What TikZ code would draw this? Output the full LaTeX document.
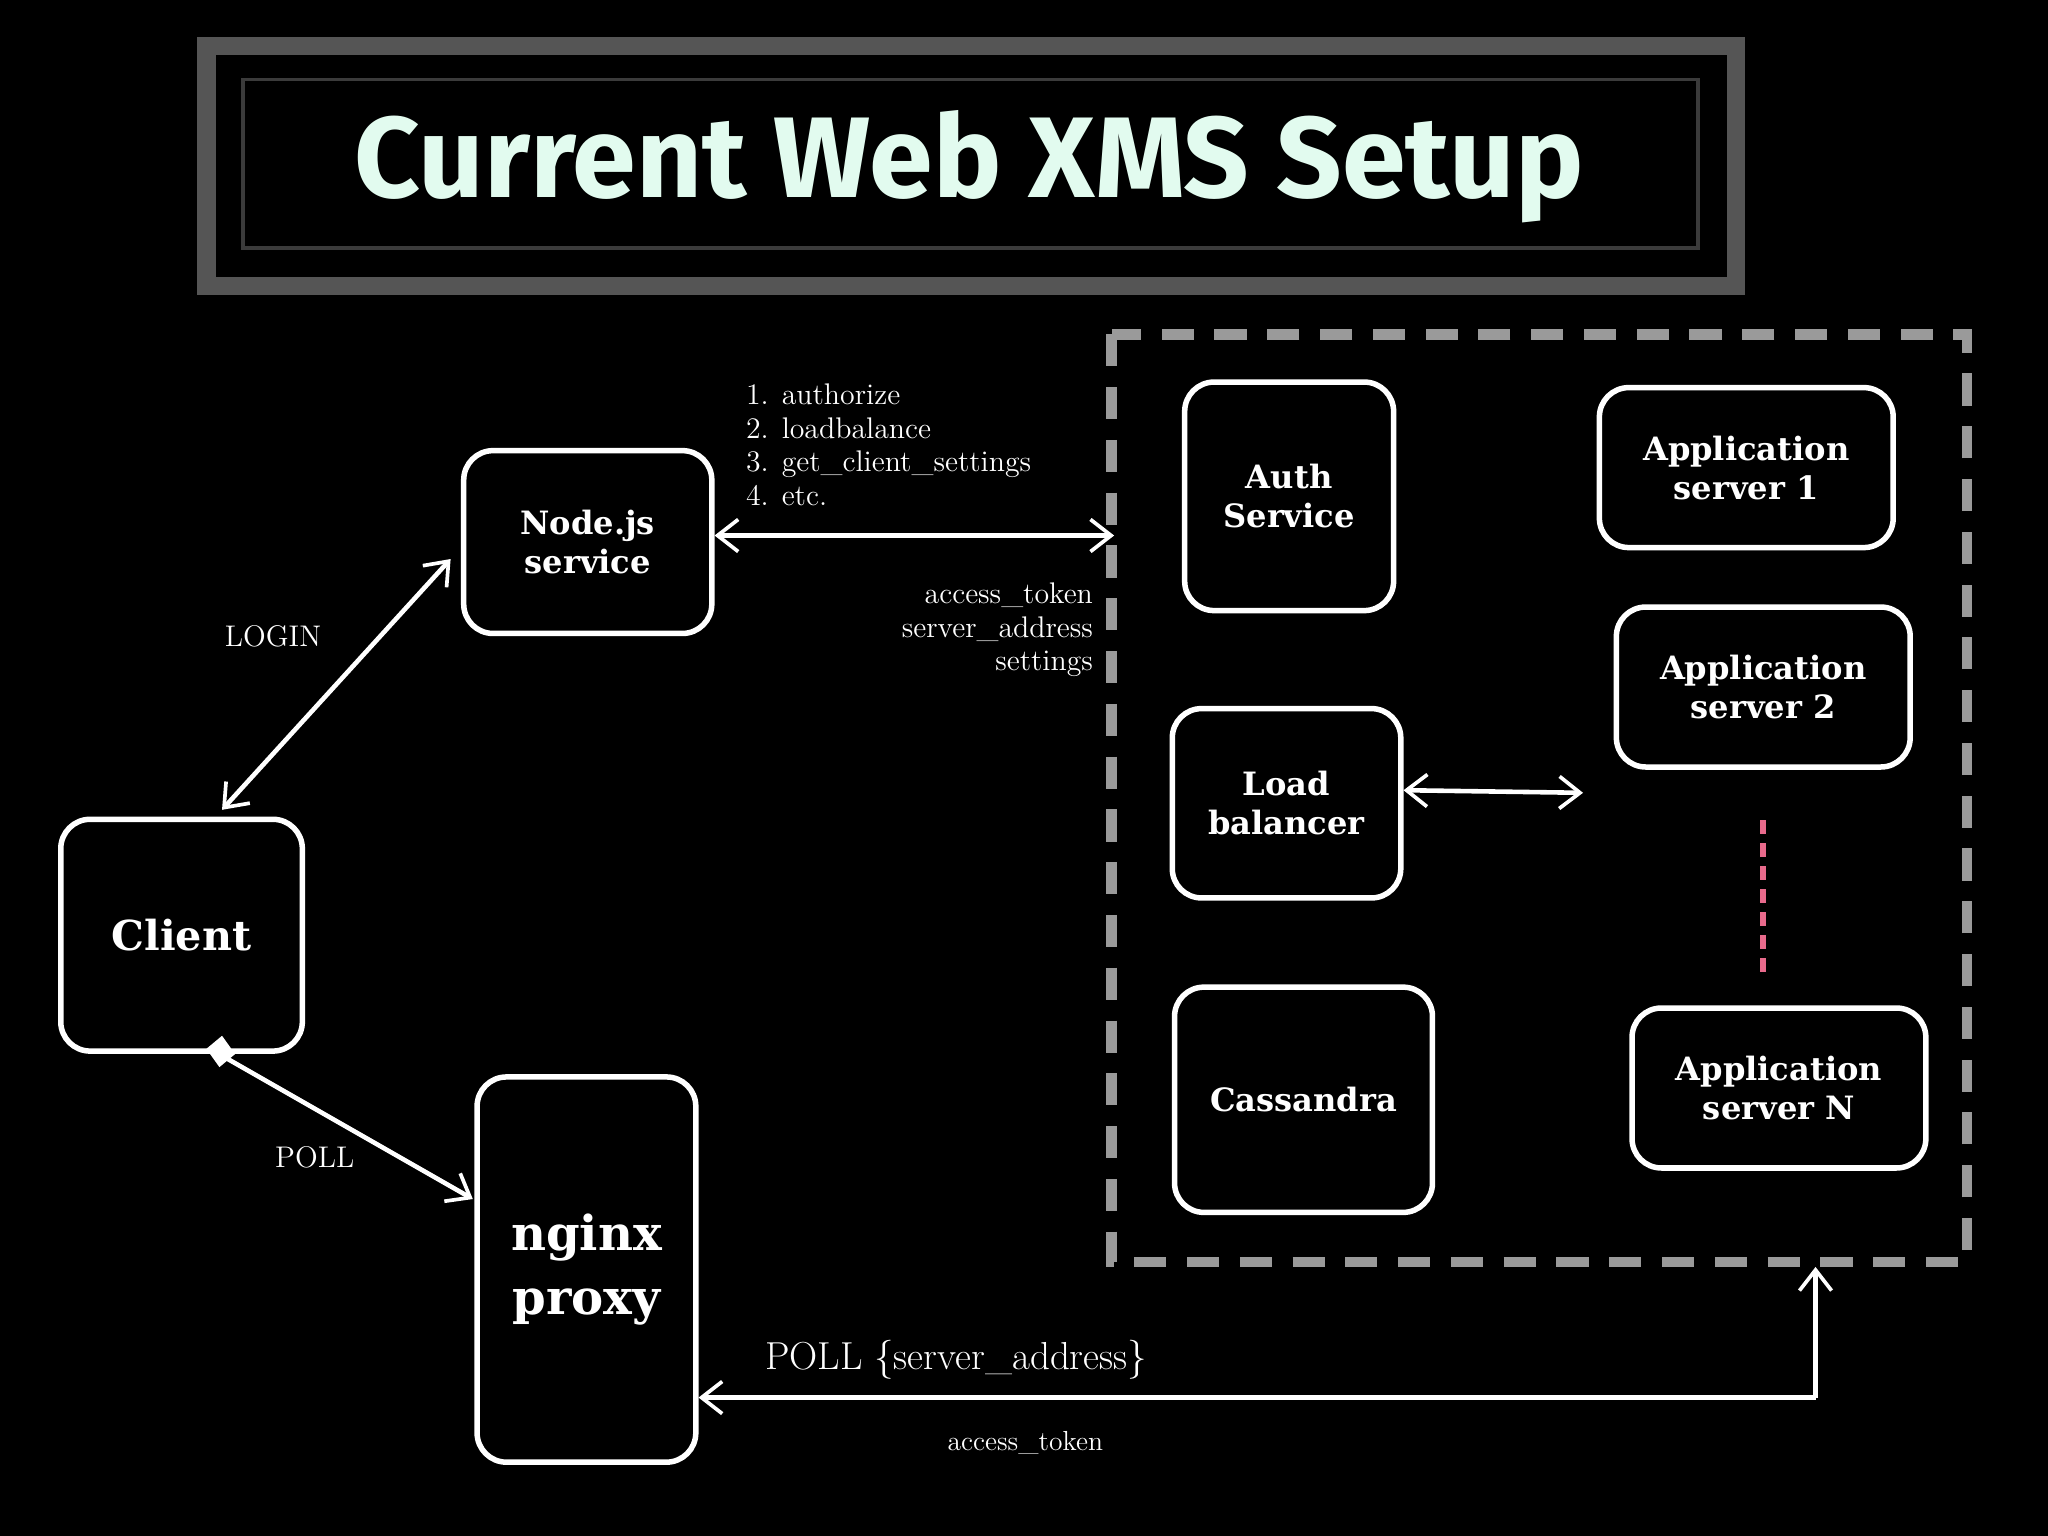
\documentclass[tikz,border=0pt]{standalone}
\usepackage{fontspec}
\setmainfont{DejaVu Serif}
\newfontfamily\titlefont{Fira Sans}
\newfontfamily\labfont{Latin Modern Roman}
\usetikzlibrary{arrows.meta}
\definecolor{mint}{HTML}{E2FBEF}
\definecolor{frame}{HTML}{555555}
\definecolor{dashgrey}{HTML}{9A9A9A}
\definecolor{pinkd}{HTML}{E86A8C}
\begin{document}
\begin{tikzpicture}[x=0.02cm,y=-0.02cm,
  >={Straight Barb[length=9pt,width=14pt,line width=1.6pt]},
  box/.style={draw=white,line width=2.4pt,rounded corners=0.45cm,fill=black,text=white,align=center,font=\bfseries\fontsize{14}{17}\selectfont},
  lab/.style={text=white,font=\labfont\fontsize{13}{16}\selectfont},
  conn/.style={draw=white,line width=2pt}]
\fill[black] (0,0) rectangle (1568,1176);
\useasboundingbox (0,0) rectangle (1568,1176);
% title
\draw[frame,line width=8pt] (158,35) rectangle (1329,219);
\draw[frame!70!black,line width=1.5pt] (186,61) rectangle (1300,190);
\node[text=mint,font=\titlefont\bfseries\fontsize{50}{60}\selectfont] (title) at (742,128) {Current Web XMS Setup};
% dashed region
\draw[dashgrey,line width=4.5pt,dash pattern=on 14pt off 9pt] (851,256) rectangle (1506,966);
% nodes
\node[box,minimum width=3.8cm,minimum height=2.8cm] (node) at (450,415) {Node.js\\service};
\node[box,minimum width=3.2cm,minimum height=3.5cm] (auth) at (987,380) {Auth\\Service};
\node[box,minimum width=4.5cm,minimum height=2.45cm] (app1) at (1337,358) {Application\\server 1};
\node[box,minimum width=4.5cm,minimum height=2.45cm] (app2) at (1350,526) {Application\\server 2};
\node[box,minimum width=3.5cm,minimum height=2.9cm] (lb) at (985,615) {Load\\balancer};
\node[box,minimum width=3.95cm,minimum height=3.45cm] (cass) at (998,842) {Cassandra};
\node[box,minimum width=4.5cm,minimum height=2.45cm] (appN) at (1362,833) {Application\\server N};
\node[box,minimum width=3.7cm,minimum height=3.55cm,font=\bfseries\fontsize{18}{22}\selectfont] (client) at (139,716) {Client};
\node[box,minimum width=3.35cm,minimum height=5.9cm,font=\bfseries\fontsize{21}{28}\selectfont] (nginx) at (449,972) {nginx\\proxy};
% coordinates
\coordinate (lbend) at (1212,607);
\coordinate (corner) at (1390,1070);
\coordinate (boxbot) at (1390,970);
\coordinate (dotA) at (1350,628);
\coordinate (dotB) at (1350,745);
\coordinate (cs) at (166,806);
\coordinate (ng) at (362,918);
% connectors
\draw[conn,<->] (170,620) -- (345,428);
\draw[conn,<->] (node.east |- 0,410) -- (853,410);
\draw[conn,<->] (lb.east |- 0,605) -- (lbend);
\draw[conn,->] (cs) -- (ng);
\fill[white] (158,803) -- (170,793) -- (180,807) -- (168,817) -- cycle;
\draw[conn,->] (corner) -- (boxbot);
\draw[conn,->] (corner) -- (nginx.east |- corner);
\draw[pinkd,line width=2.5pt,dash pattern=on 6pt off 4pt] (dotA) -- (dotB);
% labels
\node[lab] (login) at (209,487) {LOGIN};
\node[lab] (poll) at (241,886) {POLL};
\node[lab,anchor=north west,align=left,font=\labfont\fontsize{13}{14.6}\selectfont] (steps) at (565,288) {1. authorize\\2. loadbalance\\3. get\_client\_settings\\4. etc.};
\node[lab,anchor=north east,align=right,font=\labfont\fontsize{13}{14.6}\selectfont] (resp) at (843,440) {access\_token\\server\_address\\settings};
\node[lab,font=\labfont\fontsize{17}{20}\selectfont] (pollsa) at (732,1041) {POLL \{server\_address\}};
\node[lab,font=\labfont\fontsize{12}{14}\selectfont] (at) at (785,1105) {access\_token};
\end{tikzpicture}
\end{document}
